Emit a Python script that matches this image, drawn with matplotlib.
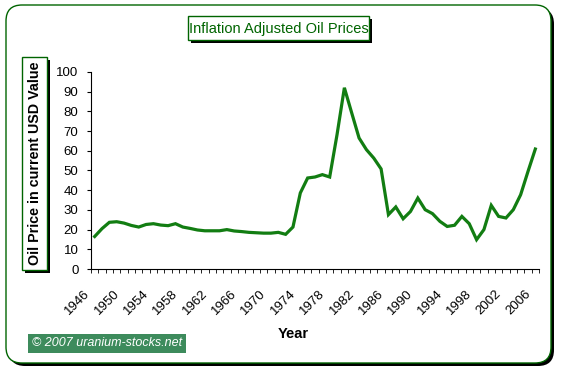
import numpy as np
import matplotlib
matplotlib.use('Agg')
import matplotlib.pyplot as plt
from matplotlib.patches import FancyBboxPatch, Rectangle
from matplotlib.transforms import ScaledTranslation

plt.rcParams['font.family'] = ['Liberation Sans', 'DejaVu Sans']

# inflation adjusted oil price, one value per year
years = list(range(1946, 2007))
prices = [16.5, 20.5, 23.7, 24.0, 23.3, 22.1, 21.3, 22.6, 23.0, 22.3,
          22.0, 23.0, 21.3, 20.6, 19.8, 19.4, 19.4, 19.4, 20.0, 19.3,
          19.0, 18.6, 18.4, 18.2, 18.2, 18.6, 17.6, 21.3, 38.6, 46.2,
          46.7, 47.9, 46.7, 68.2, 92.0, 79.2, 66.5, 60.6, 56.3, 50.8,
          27.6, 31.5, 25.5, 29.2, 36.0, 30.1, 28.1, 24.2, 21.6, 22.2,
          26.7, 23.0, 14.9, 20.0, 32.3, 26.7, 25.9, 30.1, 37.7, 49.5,
          60.9]
label_years = years[::4]

green = '#006400'
fig = plt.figure(figsize=(5.61, 3.73), dpi=100)

# background layer in pixel coords for the boxes
bg = fig.add_axes([0, 0, 1, 1])
bg.set_xlim(0, 561)
bg.set_ylim(373, 0)
bg.axis('off')

def box(x0, y0, x1, y1, fc='white', ec=green, shadow=3, r=0):
  if r:
    style = 'round,pad=0,rounding_size=%d' % r
  else:
    style = 'square,pad=0'
  if shadow:
    bg.add_patch(FancyBboxPatch((x0 + shadow, y0 + shadow), x1 - x0, y1 - y0,
                                boxstyle=style, fc='black', ec='black', lw=0))
  bg.add_patch(FancyBboxPatch((x0, y0), x1 - x0, y1 - y0,
                              boxstyle=style, fc=fc, ec=ec, lw=1))

box(6, 5, 551, 363, shadow=3, r=16)
box(188, 16, 369, 40)
bg.text(278.5, 28.5, 'Inflation Adjusted Oil Prices', color=green,
        fontsize=10.5, ha='center', va='center')
box(22, 57, 47, 270)
bg.text(35, 163.5, 'Oil Price in current USD Value', fontsize=10.3,
        fontweight='bold', rotation=90, ha='center', va='center')
bg.add_patch(Rectangle((28, 334), 158, 19, fc='#3d8b5c', ec='none'))
bg.text(107, 343.5, '\u00a9 2007 uranium-stocks.net', color='white',
        fontsize=9, style='italic', ha='center', va='center')
bg.text(293, 334, 'Year', fontsize=10.5, fontweight='bold',
        ha='center', va='center')

ax = fig.add_axes([91 / 561, 104 / 373, 448 / 561, 197 / 373])
ax.patch.set_alpha(0)
ax.plot(years, prices, color='#127d12', lw=2.3, solid_joinstyle='miter')
ax.set_xlim(1945.5, 2006.5)
ax.set_ylim(0, 100)
for s in ['top', 'right']:
  ax.spines[s].set_visible(False)
ax.set_yticks(range(0, 101, 10))
ax.tick_params(axis='y', direction='out', length=3, pad=6, labelsize=9.5)
ax.set_xticks(label_years)
ax.set_xticks(np.arange(1945.5, 2007, 1), minor=True)
ax.tick_params(axis='x', which='major', length=0, pad=9, labelsize=9.5)
ax.tick_params(axis='x', which='minor', direction='out', length=3)
ax.set_xticklabels([str(y) for y in label_years], rotation=45,
                   ha='right', rotation_mode='anchor')
shift = ScaledTranslation(-0.11, -0.06, fig.dpi_scale_trans)
for lab in ax.get_xticklabels():
  lab.set_transform(lab.get_transform() + shift)

fig.savefig('out.png', dpi=100)
